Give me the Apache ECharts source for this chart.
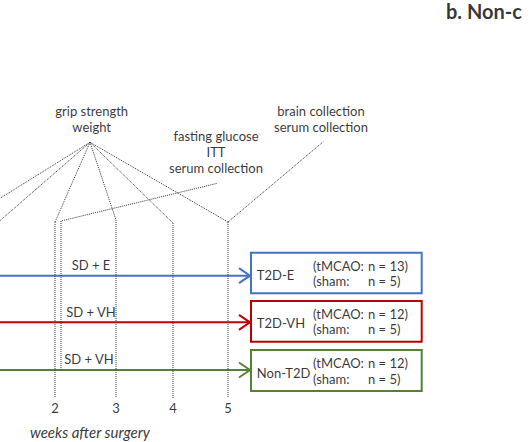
<!DOCTYPE html>
<html><head><meta charset="utf-8">
<script src="https://cdn.jsdelivr.net/npm/echarts@6/dist/echarts.min.js"></script>
<style>html,body{margin:0;padding:0;background:#fff}#c{width:530px;height:442px}</style>
</head><body><div id="c"></div>
<script>
// ---- data (x in weeks after surgery, y in diagram rows, top = 0) ----
const weekTicks = ['2', '3', '4', '5'];
const weekPos = [2, 3.058, 4.046, 5];
const weekLineTop = [222, 220, 223, 222];
const weekLineBottom = 398;
const tickLabelY = 408;

const gripApex = [2.607, 142.3];
const gripTargets = [[1.0, 200], [1.0, 223], [2, 222], [3.058, 220], [4.046, 223], [5, 222]];
const glucoseLine = [[2.104, 370], [2.104, 221], [4.814, 183.3]];
const brainLine = [[5, 222], [6.652, 141.7]];

const groupNames = ['T2D-E', 'T2D-VH', 'Non-T2D'];
const diets = ['SD + E', 'SD + VH', 'SD + VH'];
const dietLabelX = [2.624, 2.624, 2.590];
const dietLabelY = [265, 311.7, 359];
const tmcaoN = [13, 12, 12];
const shamN = [5, 5, 5];
const arrowY = [275.7, 322.3, 370];
const arrowStart = 1.0;
const arrowTip = 5.381;
const boxLeft = 5.399, boxRight = 8.359;
const boxTop = [252.7, 301, 350];
const boxBottom = [293.3, 341.7, 391];
const groupColors = ['#4472C4', '#C00000', '#548235'];

const eventTexts = ['grip strength\nweight', 'fasting glucose\nITT\nserum collection', 'brain collection\nserum collection'];
const eventX = [2.636, 4.792, 6.613];
const eventY = [119, 151.5, 119];

const axisTitle = 'weeks after surgery';
const panelTitle = 'b. Non-c';

// ---- build ----
const FONT = 'Lato';
const dotted = {type: 'dotted', width: 1, color: '#333'};
const series = [];
function line(points) {
  series.push({type: 'line', data: points, symbol: 'none', silent: true, animation: false, lineStyle: dotted});
}
gripTargets.forEach(t => line([gripApex, t]));
weekPos.forEach((w, i) => line([[w, weekLineTop[i]], [w, weekLineBottom]]));
line(glucoseLine);
line(brainLine);

// arrows and boxes
series.push({
  type: 'custom', silent: true, animation: false, clip: true,
  data: groupNames.map((n, i) => [i]),
  renderItem: function (params, api) {
    const i = api.value(0);
    const c = groupColors[i];
    const s = api.coord([arrowStart, arrowY[i]]);
    const t = api.coord([arrowTip, arrowY[i]]);
    const tl = api.coord([boxLeft, boxTop[i]]);
    const br = api.coord([boxRight, boxBottom[i]]);
    return {type: 'group', children: [
      {type: 'line', shape: {x1: s[0], y1: s[1], x2: t[0], y2: t[1]}, style: {stroke: c, lineWidth: 2}},
      {type: 'polyline', shape: {points: [[t[0] - 11, t[1] - 7.5], [t[0], t[1]], [t[0] - 11, t[1] + 7.5]]}, style: {stroke: c, lineWidth: 2, fill: null}},
      {type: 'rect', shape: {x: tl[0], y: tl[1], width: br[0] - tl[0], height: br[1] - tl[1]}, style: {stroke: c, lineWidth: 2, fill: '#fff'}}
    ]};
  }
});

function textSeries(items, style) {
  series.push({
    type: 'scatter', silent: true, animation: false, symbolSize: 1,
    itemStyle: {color: 'rgba(0,0,0,0)'},
    data: items.map(it => ({value: [it[0], it[1]], label: {formatter: it[2]}})),
    label: Object.assign({show: true, position: 'inside', color: '#000', fontFamily: FONT, fontSize: 13, verticalAlign: 'middle', align: 'center'}, style),
    z: 10
  });
}
textSeries(eventTexts.map((t, i) => [eventX[i], eventY[i], t]), {lineHeight: 16});
textSeries(diets.map((t, i) => [dietLabelX[i], dietLabelY[i], t]), {});
textSeries(weekTicks.map((t, i) => [weekPos[i], tickLabelY, t]), {});
textSeries(groupNames.map((t, i) => [5.50, (boxTop[i] + boxBottom[i]) / 2 + 2, t]), {align: 'left'});
const rowsA = [], rowsB = [];
groupNames.forEach((n, i) => {
  const mid = (boxTop[i] + boxBottom[i]) / 2;
  rowsA.push([6.474, mid - 7.5, '(tMCAO:']);
  rowsA.push([6.474, mid + 8, '(sham:']);
  rowsB.push([7.428, mid - 7.5, 'n = ' + tmcaoN[i] + ')']);
  rowsB.push([7.428, mid + 8, 'n = ' + shamN[i] + ')']);
});
textSeries(rowsA, {align: 'left'});
textSeries(rowsB, {align: 'left'});
textSeries([[1.566, 432, axisTitle]], {align: 'left', fontStyle: 'italic', fontSize: 15, lineHeight: 16});
textSeries([[8.78, 11, panelTitle]], {align: 'left', fontWeight: 'bold', fontSize: 20, lineHeight: 20});

const chart = echarts.init(document.getElementById('c'), null, {renderer: 'svg'});
chart.setOption({
  animation: false,
  grid: {left: 0, right: 0, top: 0, bottom: 0, containLabel: false},
  xAxis: {type: 'value', min: 1.0463, max: 10.237, show: false},
  yAxis: {type: 'value', min: 0, max: 442, inverse: true, show: false},
  series: series
});
</script></body></html>
